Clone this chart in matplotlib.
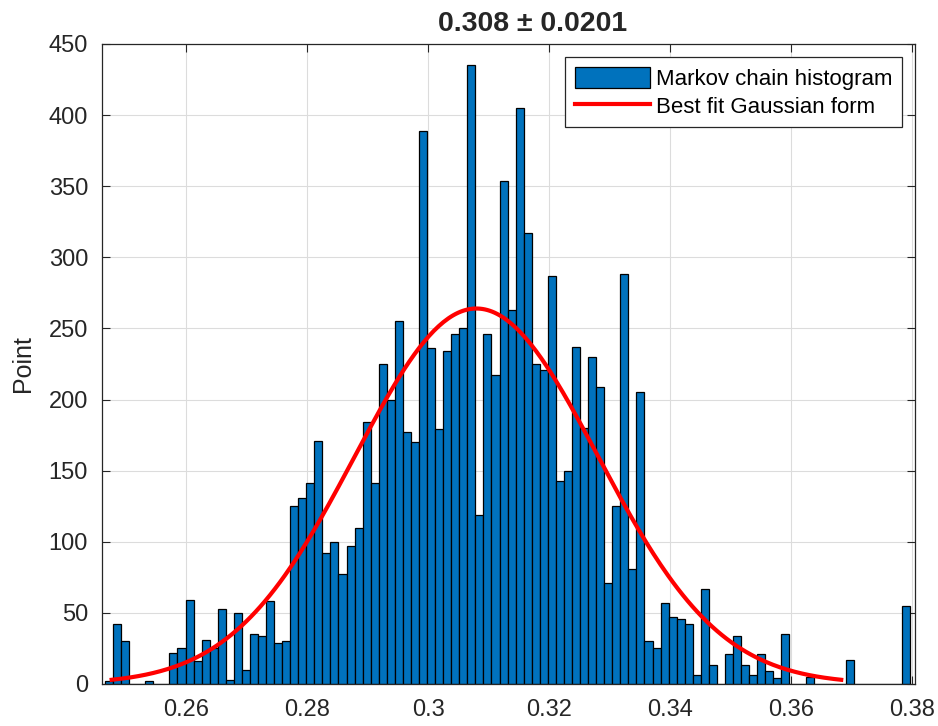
import numpy as np
import matplotlib.pyplot as plt

# histogram of the Markov chain: 100 bins, counts read left to right
counts = [2, 42, 30, 0, 0, 2, 0, 0, 22, 25,
          59, 16, 31, 25, 53, 3, 50, 10, 35, 34,
          58, 29, 30, 125, 131, 141, 171, 92, 100, 77,
          97, 110, 184, 141, 225, 200, 255, 177, 170, 389,
          236, 179, 234, 246, 250, 435, 119, 246, 217, 354,
          263, 405, 317, 225, 221, 287, 143, 150, 237, 180,
          230, 209, 71, 125, 288, 81, 205, 30, 25, 57,
          47, 46, 42, 6, 67, 13, 0, 21, 34, 13,
          6, 21, 9, 4, 35, 0, 0, 5, 0, 0,
          0, 0, 17, 0, 0, 0, 0, 0, 0, 55]
x_min = 0.2466   # left edge of first bin
x_max = 0.3797   # right edge of last bin

# gaussian fit (drawn over mu +- 3 sigma)
mu = 0.308
sigma = 0.0201
gauss_peak = 264

xticks = [0.26, 0.28, 0.3, 0.32, 0.34, 0.36, 0.38]
yticks = [0, 50, 100, 150, 200, 250, 300, 350, 400, 450]

plt.rcParams['font.family'] = ['Liberation Sans', 'DejaVu Sans']
dark = '#262626'

fig = plt.figure(figsize=(9.38, 7.26), dpi=100)
ax = fig.add_axes([0.1087, 0.0579, 0.8668, 0.8815])

edges = np.linspace(x_min, x_max, len(counts) + 1)
bars = ax.bar(edges[:-1], counts, width=np.diff(edges), align='edge',
              color='#0072BD', edgecolor='black', linewidth=0.9,
              label='Markov chain histogram', zorder=2)

xs = np.linspace(mu - 3 * sigma, mu + 3 * sigma, 300)
line, = ax.plot(xs, gauss_peak * np.exp(-(xs - mu) ** 2 / (2 * sigma ** 2)),
                color='red', linewidth=3, label='Best fit Gaussian form', zorder=3)

ax.set_xlim(0.2461, 0.3805)
ax.set_ylim(0, 450)
ax.set_xticks(xticks)
ax.set_xticklabels(['%g' % t for t in xticks])
ax.set_yticks(yticks)

ax.set_axisbelow(True)
ax.grid(True, color='#dcdcdc', linewidth=0.8)
ax.tick_params(direction='in', top=True, right=True, length=6, width=0.8,
               labelsize=17, colors=dark)
ax.tick_params(axis='x', pad=11)
ax.tick_params(axis='y', pad=10)
for s in ax.spines.values():
    s.set_color(dark)
    s.set_linewidth(0.9)

ax.set_ylabel('Point', fontsize=18, color=dark, labelpad=10)
t = ax.set_title('0.308 \u00b1 0.0201', fontsize=20.5, fontweight='bold', color=dark, pad=9)
t.set_x(0.529)

leg = ax.legend([bars, line], ['Markov chain histogram', 'Best fit Gaussian form'],
                loc='upper right', fontsize=16, fancybox=False, framealpha=1,
                edgecolor=dark, handlelength=3.4, handleheight=1.1,
                borderaxespad=0.6, handletextpad=0.25, borderpad=0.42,
                labelspacing=0.22)
leg.get_frame().set_linewidth(0.9)

fig.savefig('out.png', dpi=100)
